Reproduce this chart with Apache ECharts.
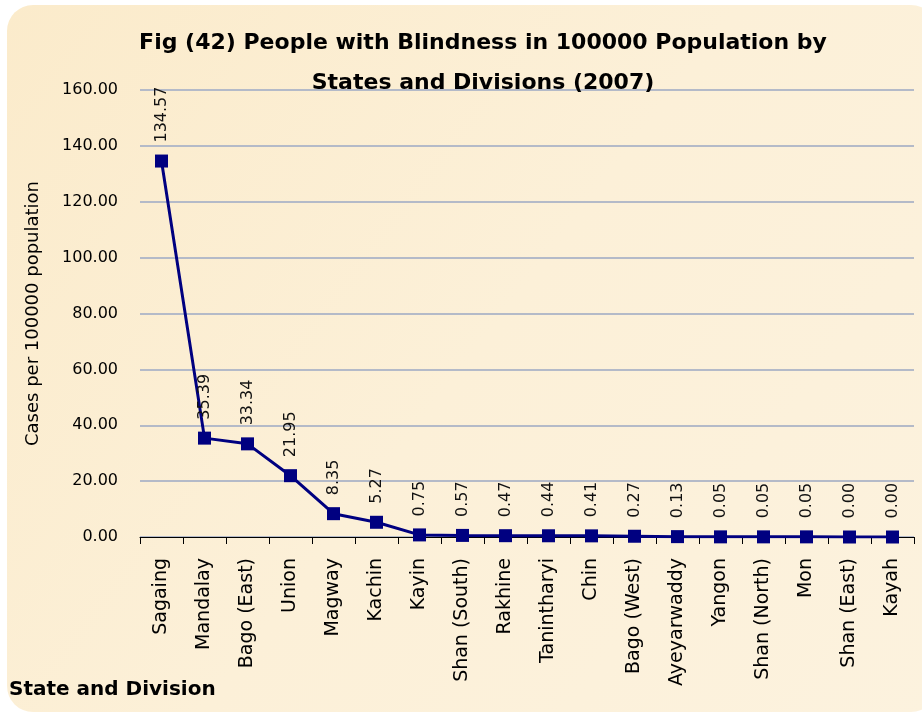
<!DOCTYPE html>
<html>
<head>
<meta charset="utf-8">
<script src="https://cdn.jsdelivr.net/npm/echarts@6/dist/echarts.min.js"></script>
<style>
html,body{margin:0;padding:0;background:#fff;}
#c{width:922px;height:715px;}
</style>
</head>
<body>
<div id="c"></div>
<script>
const categories = ["Sagaing","Mandalay","Bago (East)","Union","Magway","Kachin","Kayin","Shan (South)","Rakhine","Tanintharyi","Chin","Bago (West)","Ayeyarwaddy","Yangon","Shan (North)","Mon","Shan (East)","Kayah"];
const values = [134.57,35.39,33.34,21.95,8.35,5.27,0.75,0.57,0.47,0.44,0.41,0.27,0.13,0.05,0.05,0.05,0.00,0.00];
const yTicks = [0,20,40,60,80,100,120,140,160];

const chart = echarts.init(document.getElementById('c'));
const FONT = '"DejaVu Sans", sans-serif';
chart.setOption({
  animation: false,
  backgroundColor: '#ffffff',
  graphic: [{
    type: 'rect', z: -10,
    shape: {x: 7, y: 5, width: 930, height: 707, r: 26},
    style: {
      fill: new echarts.graphic.LinearGradient(0, 0, 1, 1, [
        {offset: 0, color: '#FBEBCB'},
        {offset: 0.5, color: '#FCF0D8'},
        {offset: 1, color: '#FCF2DE'}
      ])
    }
  }],
  title: {
    text: 'Fig (42) People with Blindness in 100000 Population by\nStates and Divisions (2007)',
    left: 478, top: 18, textAlign: 'center',
    textStyle: {fontFamily: FONT, fontSize: 22, fontWeight: 'bold', color: '#000', lineHeight: 40}
  },
  grid: {left: 140, right: 8, top: 90, bottom: 178, containLabel: false},
  xAxis: {
    type: 'category',
    data: categories,
    boundaryGap: true,
    name: 'State and Division',
    nameLocation: 'start',
    nameGap: 0,
    nameTextStyle: {fontFamily: FONT, fontSize: 20, fontWeight: 'bold', color: '#000', align: 'left', verticalAlign: 'bottom', padding: [0,0,-163,-131]},
    axisLine: {lineStyle: {color: '#000', width: 1}},
    axisTick: {show: true, length: 7, lineStyle: {color: '#000'}},
    axisLabel: {rotate: 90, fontFamily: FONT, fontSize: 19, color: '#000', margin: 21, interval: 0}
  },
  yAxis: {
    type: 'value',
    min: 0, max: 160, interval: 20,
    name: 'Cases per 100000 population',
    nameLocation: 'middle',
    nameGap: 98,
    nameTextStyle: {fontFamily: FONT, fontSize: 18, color: '#000'},
    axisLine: {show: false},
    axisTick: {show: false},
    axisLabel: {fontFamily: FONT, fontSize: 16, color: '#000', margin: 22, formatter: v => v.toFixed(2)},
    splitLine: {lineStyle: {color: '#B4BAC8', width: 2}}
  },
  series: [{
    type: 'line',
    data: values,
    symbol: 'rect',
    symbolSize: 13,
    lineStyle: {color: '#000080', width: 3},
    itemStyle: {color: '#000080'},
    label: {
      show: true, position: 'top', rotate: 90, align: 'left', verticalAlign: 'middle',
      distance: 12,
      fontFamily: FONT, fontSize: 16, color: '#111',
      formatter: p => values[p.dataIndex].toFixed(2)
    }
  }]
});
</script>
</body>
</html>
